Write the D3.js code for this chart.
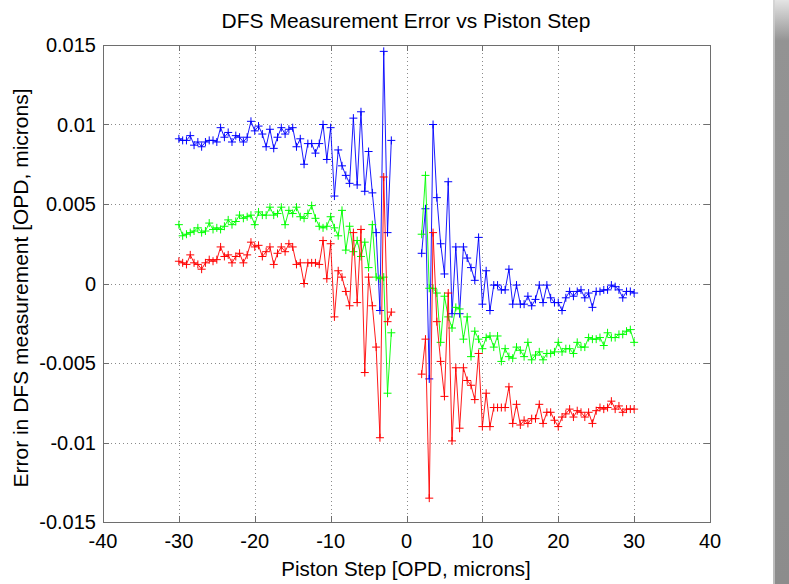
<!DOCTYPE html>
<html>
<head>
<meta charset="utf-8">
<script src="https://cdn.jsdelivr.net/npm/d3@7"></script>
<style>
  body { margin: 0; background: #fff; }
  svg { display: block; }
</style>
</head>
<body>
<svg id="chart"></svg>
<script>
// piston steps, two arms with a gap around zero
var xNeg = [-30,-29.5,-29,-28.5,-28,-27.5,-27,-26.5,-26,-25.5,-25,-24.5,-24,-23.5,-23,-22.5,-22,-21.5,-21,-20.5,
  -20,-19.5,-19,-18.5,-18,-17.5,-17,-16.5,-16,-15.5,-15,-14.5,-14,-13.5,-13,-12.5,-12,-11.5,-11,-10.5,
  -10,-9.5,-9,-8.5,-8,-7.5,-7,-6.5,-6,-5.5,-5,-4.5,-4,-3.5,-3,-2.5,-2];
var xPos = [2,2.5,3,3.5,4,4.5,5,5.5,6,6.5,7,7.5,8,8.5,9,9.5,10,10.5,11,11.5,12,12.5,13,13.5,14,14.5,15,15.5,
  16,16.5,17,17.5,18,18.5,19,19.5,20,20.5,21,21.5,22,22.5,23,23.5,24,24.5,25,25.5,26,26.5,27,27.5,28,28.5,
  29,29.5,30];

var blueNeg = [0.0091,0.0090,0.0090,0.0093,0.0087,0.0089,0.0086,0.0089,0.0090,0.0090,0.0089,0.0098,0.0092,0.0095,
  0.0089,0.0093,0.0092,0.0089,0.0092,0.0102,0.0096,0.0099,0.0094,0.0086,0.0097,0.0085,0.0092,0.0098,0.0094,0.0097,
  0.0098,0.0086,0.0091,0.0075,0.0088,0.0088,0.0082,0.0088,0.0100,0.0078,0.0098,
  0.0055,0.0084,0.0074,0.0068,0.0063,0.0104,0.0062,0.0108,0.0058,0.0083,0.0057,0.0032,-0.0017,0.0146,0.0032,0.0090];
var bluePos = [0.0019,0.0047,-0.0060,0.0100,0.0054,0.0025,0.0006,0.0064,-0.0019,0.0023,-0.0019,0.0023,0.0016,0.0010,
  0.0002,0.0029,-0.0013,
  0.0008,-0.0017,-0.0001,-0.0001,-0.0004,-0.0004,0.0009,-0.0013,-0.0001,-0.0013,-0.0013,-0.0008,-0.0014,-0.0010,
  -0.0001,-0.0012,-0.0001,-0.0009,-0.0012,-0.0012,-0.0017,-0.0009,-0.0005,-0.0008,-0.0005,-0.0004,-0.0009,-0.0006,
  -0.0015,-0.0005,-0.0005,-0.0004,-0.0004,-0.0001,-0.0002,-0.0004,-0.0009,-0.0005,-0.0005,-0.0006];

var greenNeg = [0.0037,0.0030,0.0031,0.0032,0.0033,0.0035,0.0032,0.0033,0.0038,0.0034,0.0035,0.0034,0.0036,0.0040,
  0.0037,0.0039,0.0043,0.0041,0.0042,0.0043,0.0037,0.0045,0.0043,0.0043,0.0048,0.0043,0.0044,0.0048,0.0037,0.0046,
  0.0044,0.0048,0.0042,0.0041,0.0044,0.0049,0.0041,0.0036,0.0035,0.0036,0.0042,
  0.0035,0.0030,0.0046,0.0021,0.0036,0.0020,0.0027,0.0017,0.0026,0.0010,0.0037,0.0004,0.0003,0.0004,-0.0069,-0.0031];
var greenPos = [0.0031,0.0068,-0.0003,-0.0003,-0.0006,-0.0037,-0.0008,-0.0021,-0.0028,-0.0015,-0.0016,-0.0035,
  -0.0021,-0.0046,-0.0030,-0.0035,
  -0.0041,-0.0034,-0.0033,-0.0040,-0.0033,-0.0049,-0.0041,-0.0046,-0.0047,-0.0040,-0.0042,-0.0046,-0.0037,-0.0048,
  -0.0045,-0.0043,-0.0048,-0.0044,-0.0044,-0.0043,-0.0037,-0.0043,-0.0041,-0.0041,-0.0044,-0.0037,-0.0040,-0.0040,
  -0.0034,-0.0035,-0.0035,-0.0034,-0.0039,-0.0031,-0.0034,-0.0034,-0.0032,-0.0032,-0.0030,-0.0029,-0.0037];

var redNeg = [0.0014,0.0013,0.0012,0.0018,0.0013,0.0012,0.0009,0.0013,0.0015,0.0014,0.0015,0.0023,0.0017,0.0018,
  0.0013,0.0017,0.0019,0.0013,0.0018,0.0026,0.0023,0.0024,0.0017,0.0020,0.0023,0.0012,0.0019,0.0023,0.0020,0.0025,
  0.0023,0.0012,0.0013,0.0000,0.0013,0.0013,0.0013,0.0012,0.0027,0.0003,0.0025,
  -0.0021,0.0008,0.0004,-0.0005,-0.0014,0.0032,-0.0012,0.0034,-0.0056,0.0004,-0.0014,-0.0040,-0.0097,0.0067,
  -0.0024,-0.0018];
var redPos = [-0.0057,-0.0035,-0.0135,0.0032,-0.0024,-0.0049,-0.0071,-0.0006,-0.0099,-0.0053,-0.0091,-0.0053,
  -0.0061,-0.0064,-0.0073,-0.0044,-0.0090,
  -0.0069,-0.0090,-0.0078,-0.0078,-0.0078,-0.0078,-0.0065,-0.0088,-0.0076,-0.0089,-0.0086,-0.0088,-0.0085,-0.0085,
  -0.0076,-0.0088,-0.0081,-0.0081,-0.0086,-0.0090,-0.0084,-0.0082,-0.0079,-0.0084,-0.0080,-0.0081,-0.0084,-0.0081,
  -0.0088,-0.0080,-0.0078,-0.0079,-0.0078,-0.0074,-0.0079,-0.0077,-0.0081,-0.0079,-0.0079,-0.0079];

var seriesColors = ["#0000ff", "#00ff00", "#ff0000"];
var xTicks = [-40, -30, -20, -10, 0, 10, 20, 30, 40];
var yTicks = [-0.015, -0.01, -0.005, 0, 0.005, 0.01, 0.015];
var yTickLabels = ["-0.015", "-0.01", "-0.005", "0", "0.005", "0.01", "0.015"];

function draw_chart() {
  var width = 789, height = 584;
  var plotLeft = 103, plotRight = 710, plotTop = 45, plotBottom = 522;
  var font = "'Liberation Sans', Arial, Helvetica, sans-serif";

  var svg = d3.select("#chart").attr("width", width).attr("height", height);

  var x = d3.scaleLinear().domain([-40, 40]).range([plotLeft, plotRight]);
  var y = d3.scaleLinear().domain([-0.015, 0.015]).range([plotBottom, plotTop]);

  // grey window strip on the right edge
  var defs = svg.append("defs");
  var grad = defs.append("linearGradient").attr("id", "strip")
    .attr("x1", 0).attr("y1", 0).attr("x2", 0).attr("y2", 1);
  grad.append("stop").attr("offset", "0%").attr("stop-color", "#e4e4e4");
  grad.append("stop").attr("offset", "7%").attr("stop-color", "#939393");
  grad.append("stop").attr("offset", "100%").attr("stop-color", "#8c8c8c");
  svg.append("rect").attr("x", 773).attr("y", 0).attr("width", 16).attr("height", height)
    .attr("fill", "url(#strip)");
  svg.append("rect").attr("x", 773).attr("y", 0).attr("width", 2).attr("height", height)
    .attr("fill", "#d0d0d0").attr("opacity", 0.7);

  // grid
  var grid = svg.append("g");
  grid.selectAll(".gx").data(xTicks.slice(1, -1)).enter().append("line")
    .attr("x1", function(d) { return Math.round(x(d)) + 0.5; })
    .attr("x2", function(d) { return Math.round(x(d)) + 0.5; })
    .attr("y1", plotTop).attr("y2", plotBottom);
  grid.selectAll(".gy").data(yTicks.slice(1, -1)).enter().append("line")
    .attr("y1", function(d) { return Math.round(y(d)) + 0.5; })
    .attr("y2", function(d) { return Math.round(y(d)) + 0.5; })
    .attr("x1", plotLeft).attr("x2", plotRight);
  grid.selectAll("line")
    .attr("stroke", "#8a8a8a")
    .attr("stroke-width", 1)
    .attr("stroke-dasharray", "1,3");

  // data lines and + markers
  var line = d3.line()
    .x(function(d) { return x(d[0]); })
    .y(function(d) { return y(d[1]); });

  var plot = svg.append("g");
  var sets = [[blueNeg, bluePos], [greenNeg, greenPos], [redNeg, redPos]];
  sets.forEach(function(s, i) {
    var arms = [d3.zip(xNeg, s[0]), d3.zip(xPos, s[1])];
    arms.forEach(function(pts) {
      plot.append("path")
        .attr("d", line(pts))
        .attr("fill", "none")
        .attr("stroke", seriesColors[i])
        .attr("stroke-width", 0.9);
      plot.selectAll(null).data(pts).enter().append("path")
        .attr("d", function(d) {
          var px = x(d[0]), py = y(d[1]), a = 4;
          return "M" + (px - a) + "," + py + "H" + (px + a) + "M" + px + "," + (py - a) + "V" + (py + a);
        })
        .attr("stroke", seriesColors[i])
        .attr("stroke-width", 1);
    });
  });

  // axes box with inward ticks
  var axisColor = "#6e6e6e";
  svg.append("rect")
    .attr("x", plotLeft + 0.5).attr("y", plotTop + 0.5)
    .attr("width", plotRight - plotLeft).attr("height", plotBottom - plotTop)
    .attr("fill", "none").attr("stroke", axisColor).attr("stroke-width", 1);

  var ticks = svg.append("g").attr("stroke", axisColor).attr("stroke-width", 1);
  xTicks.forEach(function(t) {
    var px = Math.round(x(t)) + 0.5;
    ticks.append("line").attr("x1", px).attr("x2", px).attr("y1", plotBottom).attr("y2", plotBottom - 6);
    ticks.append("line").attr("x1", px).attr("x2", px).attr("y1", plotTop).attr("y2", plotTop + 6);
  });
  yTicks.forEach(function(t) {
    var py = Math.round(y(t)) + 0.5;
    ticks.append("line").attr("y1", py).attr("y2", py).attr("x1", plotLeft).attr("x2", plotLeft + 6);
    ticks.append("line").attr("y1", py).attr("y2", py).attr("x1", plotRight).attr("x2", plotRight - 6);
  });

  // tick labels
  svg.selectAll(".xl").data(xTicks).enter().append("text")
    .attr("x", function(d) { return x(d); })
    .attr("y", plotBottom + 26)
    .attr("text-anchor", "middle")
    .style("font-family", font).style("font-size", "20px")
    .text(function(d) { return String(d); });

  svg.selectAll(".yl").data(yTicks).enter().append("text")
    .attr("x", plotLeft - 7)
    .attr("y", function(d) { return y(d) + 7; })
    .attr("text-anchor", "end")
    .style("font-family", font).style("font-size", "20px")
    .text(function(d, i) { return yTickLabels[i]; });

  // titles
  svg.append("text")
    .attr("x", 406).attr("y", 28)
    .attr("text-anchor", "middle")
    .style("font-family", font).style("font-size", "21px")
    .text("DFS Measurement Error vs Piston Step");

  svg.append("text")
    .attr("x", 406).attr("y", 576)
    .attr("text-anchor", "middle")
    .style("font-family", font).style("font-size", "20.5px")
    .text("Piston Step [OPD, microns]");

  svg.append("text")
    .attr("transform", "translate(28,288) rotate(-90)")
    .attr("text-anchor", "middle")
    .style("font-family", font).style("font-size", "21px")
    .text("Error in DFS measurement [OPD, microns]");
}

draw_chart();
</script>
</body>
</html>
